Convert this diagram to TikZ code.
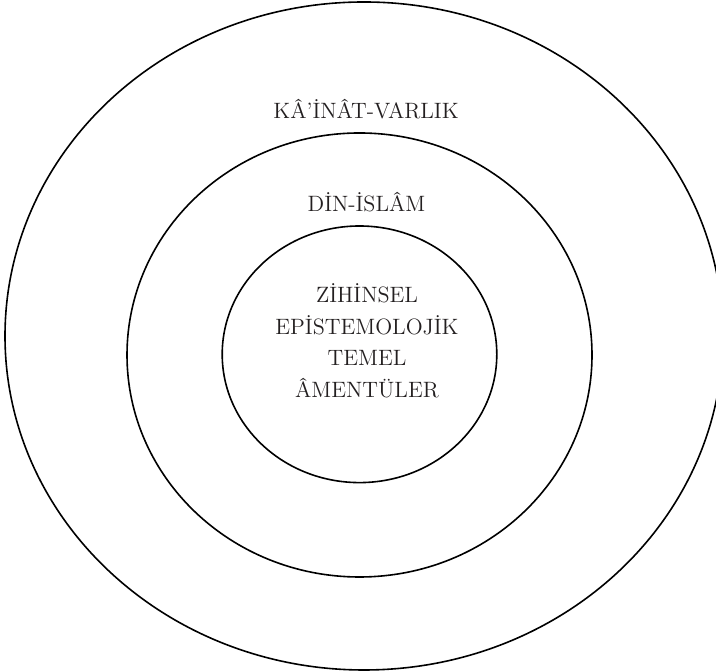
\documentclass[tikz,border=0pt]{standalone}
\usepackage{tikz}
\definecolor{ink}{HTML}{231F20}
\tikzset{
  ring/.style={draw=black, line width=0.8pt},
  lbl/.style={text=ink, inner sep=0pt, anchor=base, font=\fontsize{11.1}{13}\selectfont}
}

\begin{document}
\begin{tikzpicture}[x=0.5pt, y=0.5pt]
                        \useasboundingbox (0,0) rectangle (716,672);
                        \draw[ring] (364,336) ellipse [x radius=359, y radius=334];
                        \draw[ring] (359.5,317) ellipse [x radius=232.5, y radius=222];
                        \draw[ring] (359.5,317.7) ellipse [x radius=137.3, y radius=128.3];
                        \node[lbl] (kainat) at (366,553) {KÂ’İNÂT-VARLIK};
                        \node[lbl] (din) at (366.5,460) {DİN-İSLÂM};
                        \node[lbl] (zihinsel) at (367,369.3) {ZİHİNSEL};
                        \node[lbl] (episte) at (367,337.7) {EPİSTEMOLOJİK};
                        \node[lbl] (temel) at (367,306) {TEMEL};
                        \node[lbl] (amentu) at (367,274.3) {ÂMENTÜLER};
                    \end{tikzpicture}
\end{document}
